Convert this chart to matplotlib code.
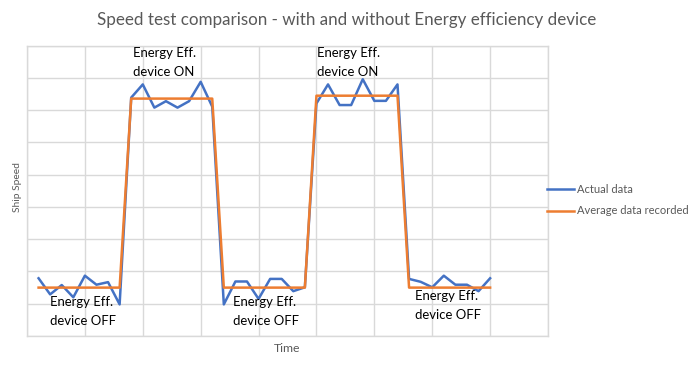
import matplotlib
matplotlib.use("Agg")
import matplotlib.pyplot as plt
from matplotlib.font_manager import FontProperties
import numpy as np

time_idx = list(range(1, 41))
actual = [1.79, 1.29, 1.58, 1.20, 1.87, 1.59, 1.67, 0.98,
          7.39, 7.80, 7.08, 7.28, 7.08, 7.28, 7.88, 7.11,
          0.98, 1.69, 1.69, 1.15, 1.77, 1.77, 1.39, 1.51,
          7.21, 7.80, 7.16, 7.16, 7.96, 7.29, 7.29, 7.80,
          1.77, 1.68, 1.51, 1.87, 1.59, 1.59, 1.39, 1.79]
average = [1.50] * 8 + [7.36] * 8 + [1.50] * 8 + [7.45] * 8 + [1.50] * 8

series_names = ["Actual data", "Average data recorded"]
title = "Speed test comparison - with and without Energy efficiency device"
xlabel = "Time"
ylabel = "Ship Speed"
annotations = [
    ("Energy Eff.\ndevice ON", 9.13, 8.06),
    ("Energy Eff.\ndevice ON", 25.02, 8.06),
    ("Energy Eff.\ndevice OFF", 1.99, 0.34),
    ("Energy Eff.\ndevice OFF", 17.82, 0.34),
    ("Energy Eff.\ndevice OFF", 33.5, 0.52),
]

FAMILY = ['Lato', 'DejaVu Sans']
plt.rcParams['font.family'] = FAMILY

fig = plt.figure(figsize=(6.94, 3.68), dpi=100)
renderer = fig.canvas.get_renderer()


def fit_size(text, target_px):
    fp = FontProperties(family=FAMILY, size=10)
    w, h, d = renderer.get_text_width_height_descent(text, fp, ismath=False)
    return 10 * target_px / w


def lp_ascent(size):
    fp = FontProperties(family=FAMILY, size=size)
    w, h, d = renderer.get_text_width_height_descent("lp", fp, ismath=False)
    return h - d


ax = fig.add_axes([27/694, 1-336/368, (548-27)/694, (336-45.7)/368])

blue = "#4472C4"
orange = "#ED7D31"
ax.plot(time_idx, actual, color=blue, lw=1.8, label=series_names[0], zorder=3)
ax.plot(time_idx, average, color=orange, lw=1.8, label=series_names[1], zorder=4)

ax.set_xlim(0, 45)
ax.set_ylim(0, 9)
ax.set_xticks(np.arange(0, 46, 5))
ax.set_yticks(np.arange(0, 10, 1))
ax.grid(True, color="#D9D9D9", lw=1)
ax.tick_params(length=0, labelbottom=False, labelleft=False)
for s in ax.spines.values():
    s.set_color("#D9D9D9")
    s.set_linewidth(1)
ax.set_axisbelow(True)

ann_fs = fit_size("Energy Eff.", 63)
ann_ls = 17 / lp_ascent(ann_fs)
for txt, x, y in annotations:
    ax.text(x, y, txt, fontsize=ann_fs, color="black", ha="left", va="baseline",
            linespacing=ann_ls, zorder=5)

fig.text(347/694, 1-20/368, title, fontsize=fit_size(title, 500), color="#595959",
         ha="center", va="center")
fig.text(287.5/694, 1-349/368, xlabel, fontsize=fit_size(xlabel, 26.7), color="#595959",
         ha="center", va="center")
fig.text(17/694, 1-187/368, ylabel, fontsize=fit_size(ylabel, 50), color="#595959",
         ha="center", va="center", rotation=90)

leg_fs = fit_size("Average data recorded", 112)
leg_em = leg_fs * 100 / 72
ax.legend(loc="center left", bbox_to_anchor=(537/694, 1-200/368), bbox_transform=fig.transFigure,
          frameon=False, fontsize=leg_fs, handlelength=27 / leg_em, handletextpad=3 / leg_em,
          labelspacing=(22 - leg_em) / leg_em, labelcolor="#595959")

fig.savefig("out.png", dpi=100)
